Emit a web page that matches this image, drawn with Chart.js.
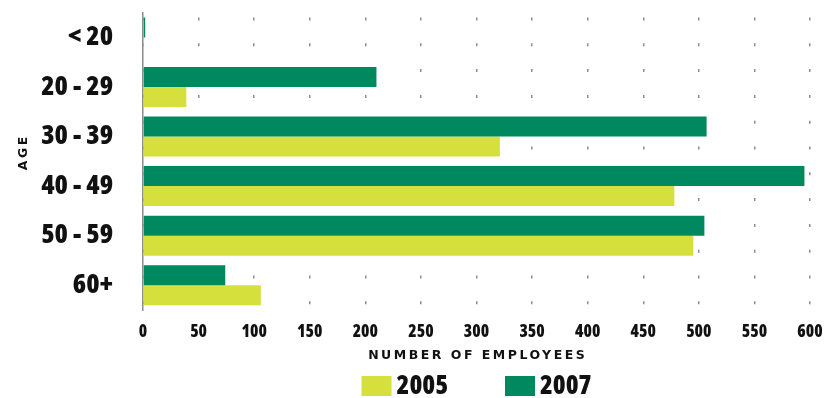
<!DOCTYPE html>
<html>
<head>
<meta charset="utf-8">
<script src="https://cdn.jsdelivr.net/npm/chart.js@4/dist/chart.umd.min.js"></script>
<style>
  html, body { margin: 0; padding: 0; background: #fff; }
  canvas { display: block; }
</style>
</head>
<body>
<canvas id="ageChart" width="825" height="398"></canvas>
<script>
'use strict';
// Data
var ageGroups = ['< 20', '20 - 29', '30 - 39', '40 - 49', '50 - 59', '60+'];
var employees2007 = [2, 210, 507, 595, 505, 74];
var employees2005 = [0, 39, 321, 478, 495, 106];
var xTicks = [0, 50, 100, 150, 200, 250, 300, 350, 400, 450, 500, 550, 600];
var seriesNames = ['2007', '2005'];
var xTitle = 'NUMBER OF EMPLOYEES';
var yTitle = 'AGE';

var green = 'rgb(0, 137, 94)';
var yellow = 'rgb(214, 224, 60)';
var condensed = '"Open Sans", sans-serif';
var wide = '"DejaVu Sans", Verdana, sans-serif';

//axis titles and legend, drawn spaced like the original
var titlesAndLegend = {
  id: 'titlesAndLegend',
  afterDraw: function (chart) {
    var ctx = chart.ctx;
    var area = chart.chartArea;
    var cx = (area.left + area.right) / 2;
    ctx.save();
    ctx.fillStyle = '#111';
    ctx.textBaseline = 'middle';
    ctx.textAlign = 'center';
    ctx.font = 'bold 12.5px ' + wide;
    ctx.letterSpacing = '2.5px';
    ctx.fillText(xTitle, cx + 1.2, 356);
    ctx.save();
    ctx.translate(23.5, 153.5);
    ctx.rotate(-Math.PI / 2);
    ctx.fillText(yTitle, 1.2, 0);
    ctx.restore();

    // legend: 2005 first, then 2007
    ctx.letterSpacing = '0px';
    ctx.font = '800 condensed 26px ' + condensed;
    ctx.textAlign = 'left';
    var items = chart.data.datasets.slice().reverse();
    var box = 30, gapText = 5, gapItem = 57;
    var widths = items.map(function (d) { return ctx.measureText(d.label).width; });
    var total = 0;
    widths.forEach(function (w, i) {
      total += box + gapText + w + (i > 0 ? gapItem : 0);
    });
    var x = cx - total / 2;
    items.forEach(function (d, i) {
      ctx.fillStyle = d.backgroundColor;
      ctx.fillRect(x, 376, box, 20);
      ctx.fillStyle = '#111';
      ctx.fillText(d.label, x + box + gapText, 387);
      x += box + gapText + widths[i] + gapItem;
    });
    ctx.restore();
  }
};

var ctx = document.getElementById('ageChart').getContext('2d');
// eslint-disable-next-line no-undef
new Chart(ctx, {
  type: 'bar',
  data: {
    labels: ageGroups,
    datasets: [{
      label: seriesNames[0],
      data: employees2007,
      backgroundColor: green
    }, {
      label: seriesNames[1],
      data: employees2005,
      backgroundColor: yellow
    }]
  },
  options: {
    indexAxis: 'y',
    responsive: false,
    animation: false,
    categoryPercentage: 0.806,
    barPercentage: 1,
    layout: {
      padding: { top: 12.6, right: 15, bottom: 0, left: 0 }
    },
    plugins: {
      legend: { display: false },
      tooltip: { enabled: false }
    },
    scales: {
      x: {
        min: 0,
        max: 600,
        afterBuildTicks: function (scale) {
          scale.ticks = xTicks.map(function (v) { return { value: v }; });
        },
        afterFit: function (scale) {
          scale.height = 88;
          scale.paddingLeft = 0;
          scale.paddingRight = 0;
        },
        grid: {
          color: '#8c8c8c',
          lineWidth: 1.5,
          drawTicks: false
        },
        border: { display: false, dash: [3, 22.8], dashOffset: 20.9 },
        ticks: {
          padding: 12,
          color: '#111',
          font: { family: condensed, size: 17, weight: '800 condensed' }
        }
      },
      y: {
        afterFit: function (scale) {
          scale.width = 143;
          scale.paddingTop = 0;
          scale.paddingBottom = 0;
        },
        grid: { display: false, drawTicks: false },
        border: { display: true, color: '#8c8c8c', width: 1.5 },
        ticks: {
          padding: 30,
          labelOffset: 0,
          color: '#111',
          font: { family: condensed, size: 27, weight: '800 condensed' }
        }
      }
    }
  },
  plugins: [titlesAndLegend]
});
</script>
</body>
</html>
